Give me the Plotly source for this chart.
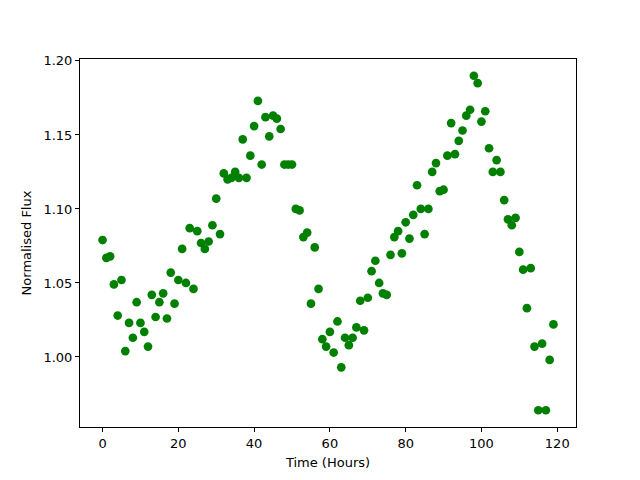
import plotly.graph_objects as go

hours = list(range(120))
flux = [
    1.079, 1.067, 1.068, 1.049, 1.028, 1.052, 1.004, 1.023, 1.013, 1.037,
    1.023, 1.017, 1.007, 1.042, 1.027, 1.037, 1.043, 1.026, 1.057, 1.036,
    1.052, 1.073, 1.050, 1.087, 1.046, 1.085, 1.077, 1.073, 1.078, 1.089,
    1.107, 1.083, 1.124, 1.120, 1.121, 1.125, 1.121, 1.147, 1.121, 1.136,
    1.156, 1.173, 1.130, 1.162, 1.149, 1.163, 1.161, 1.154, 1.130, 1.130,
    1.130, 1.100, 1.099, 1.081, 1.084, 1.036, 1.074, 1.046, 1.012, 1.007,
    1.017, 1.003, 1.024, 0.993, 1.013, 1.008, 1.013, 1.020, 1.038, 1.018,
    1.040, 1.058, 1.065, 1.050, 1.043, 1.042, 1.069, 1.081, 1.085, 1.070,
    1.091, 1.080, 1.096, 1.116, 1.100, 1.083, 1.100, 1.125, 1.131, 1.112,
    1.113, 1.136, 1.158, 1.137, 1.146, 1.153, 1.163, 1.167, 1.190, 1.185,
    1.159, 1.166, 1.141, 1.125, 1.133, 1.125, 1.106, 1.093, 1.089, 1.094,
    1.071, 1.059, 1.033, 1.060, 1.007, 0.964, 1.009, 0.964, 0.998, 1.022,
]
x_ticks = [0, 20, 40, 60, 80, 100, 120]
y_ticks = [1.00, 1.05, 1.10, 1.15, 1.20]

def padded(vals, frac=0.05):
    lo, hi = min(vals), max(vals)
    m = (hi - lo) * frac
    return [lo - m, hi + m]

fig = go.Figure(go.Scatter(
    x=hours, y=flux, mode="markers",
    marker=dict(color="#008000", size=8.7, line=dict(width=0)),
))

axis_common = dict(
    showline=True, linecolor="black", linewidth=1, mirror=True,
    ticks="outside", ticklen=4, tickcolor="black", tickwidth=1,
    showgrid=False, zeroline=False,
    tickfont=dict(family="DejaVu Sans", size=13, color="black"),
)
fig.update_layout(
    width=640, height=480,
    margin=dict(l=72, r=72, t=51, b=61, autoexpand=False),
    paper_bgcolor="white", plot_bgcolor="white",
    showlegend=False,
    font=dict(family="DejaVu Sans", size=13, color="black"),
    xaxis=dict(range=padded(hours), tickvals=x_ticks,
               title=dict(text="Time (Hours)", standoff=8,
                          font=dict(family="DejaVu Sans", size=13)),
               **axis_common),
    yaxis=dict(range=padded(flux), tickvals=y_ticks, tickformat=".2f",
               title=dict(text="Normalised Flux", standoff=8,
                          font=dict(family="DejaVu Sans", size=13)),
               **axis_common),
)
fig.write_html("out.html")
